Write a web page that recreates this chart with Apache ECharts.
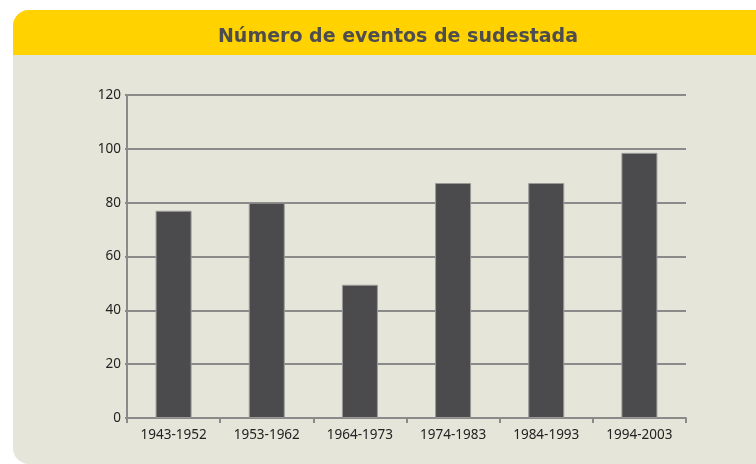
<!DOCTYPE html>
<html>
<head>
<meta charset="utf-8">
<script src="https://cdn.jsdelivr.net/npm/echarts@6/dist/echarts.min.js"></script>
<style>
    html, body { margin: 0; padding: 0; background: #ffffff; }
    #panel {
        position: absolute; left: 13px; top: 10px; width: 760px; height: 454px;
        background: #e6e5da; border-radius: 16px; overflow: hidden;
    }
    #header {
        position: absolute; left: 0; top: 0; width: 100%; height: 45px; background: #ffd200;
    }
    #chart { position: absolute; left: 0; top: 0; width: 756px; height: 464px; }
</style>
</head>
<body>
<div id="panel"><div id="header"></div></div>
<div id="chart"></div>
<script>
    // data
    const periods = ["1943-1952", "1953-1962", "1964-1973", "1974-1983", "1984-1993", "1994-2003"];
    const eventCounts = [77, 80, 49.5, 87.3, 87.3, 98.5];
    const yTicks = [0, 20, 40, 60, 80, 100, 120];

    let chart = echarts.init(document.querySelector("#chart"));

    let option = {
        title: {
            text: "Número de eventos de sudestada",
            left: 393,
            top: 23,
            textAlign: "center",
            textStyle: {
                fontFamily: "DejaVu Sans",
                fontWeight: "bold",
                fontSize: 19,
                color: "#4d4d4f"
            }
        },
        grid: { left: 127, right: 70, top: 95, bottom: 46 },
        xAxis: {
            type: "category",
            data: periods,
            axisLine: { lineStyle: { color: "#8a8a8a", width: 2 } },
            axisTick: { show: true, length: 5, lineStyle: { color: "#8a8a8a", width: 2 } },
            axisLabel: { color: "#222", fontFamily: "Noto Sans", fontSize: 13.5, margin: 10 }
        },
        yAxis: {
            type: "value",
            min: yTicks[0],
            max: yTicks[yTicks.length - 1],
            interval: 20,
            axisLine: { show: true, lineStyle: { color: "#8a8a8a", width: 2 } },
            axisTick: { show: true, length: 2, lineStyle: { color: "#8a8a8a", width: 2 } },
            axisLabel: { color: "#222", fontFamily: "Noto Sans", fontSize: 13.5, margin: 6 },
            splitLine: { lineStyle: { color: "#8a8a8a", width: 2 } }
        },
        series: [{
            type: "bar",
            data: eventCounts,
            barWidth: 36,
            itemStyle: { color: "#4b4b4d", borderColor: "#9a9a98", borderWidth: 1 }
        }]
    };

    chart.setOption(option);
</script>
</body>
</html>
